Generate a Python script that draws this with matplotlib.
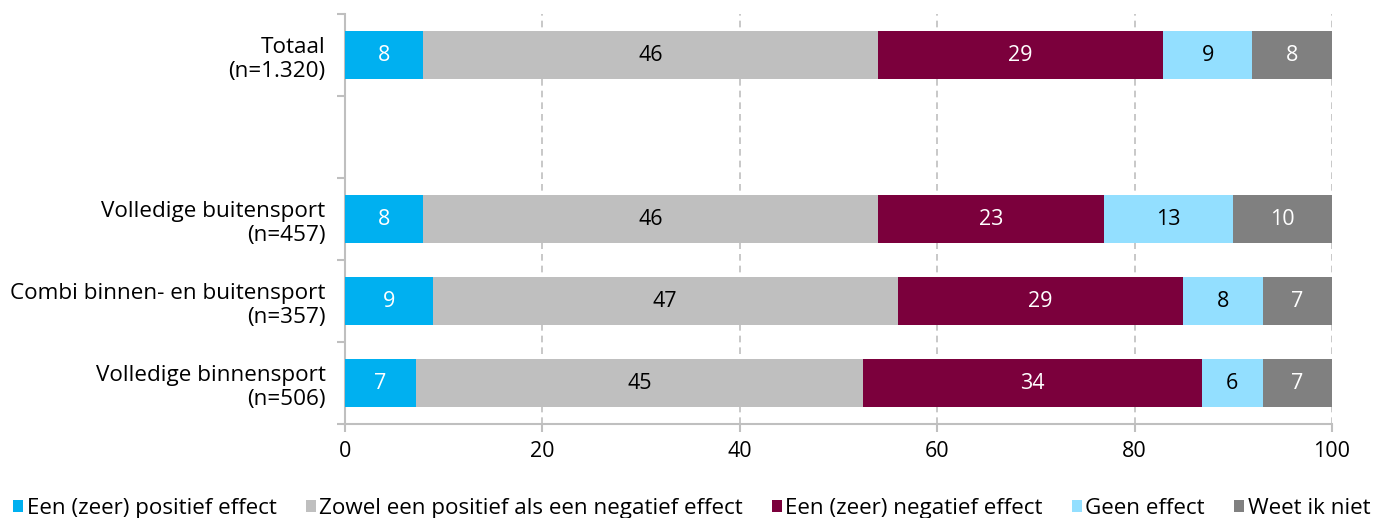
import matplotlib
matplotlib.use('agg')
import matplotlib.pyplot as plt
import numpy as np

plt.rcParams['font.family'] = ['Open Sans', 'DejaVu Sans']

# categorieen (van boven naar beneden), lege rij tussen Totaal en de rest
categorieen = ['Totaal\n(n=1.320)', '', 'Volledige buitensport\n(n=457)',
               'Combi binnen- en buitensport\n(n=357)', 'Volledige binnensport\n(n=506)']

reeksen = ['Een (zeer) positief effect', 'Zowel een positief als een negatief effect',
           'Een (zeer) negatief effect', 'Geen effect', 'Weet ik niet']

# percentages per categorie (lege rij = nullen)
positief = [7.9, 0, 7.9, 8.9, 7.2]
zowel = [46.1, 0, 46.1, 47.1, 45.3]
negatief = [28.9, 0, 22.9, 28.9, 34.3]
geen = [9.0, 0, 13.1, 8.1, 6.2]
weet_niet = [8.1, 0, 10.0, 7.0, 7.0]

kleuren = ['#00B0F0', '#BFBFBF', '#7B003C', '#93DFFF', '#808080']
tekstkleuren = ['white', 'black', 'white', 'black', 'white']

fig = plt.figure(figsize=(13.84, 5.18), dpi=100)
ax = fig.add_axes([345/1384, 1-424/518, 987/1384, 410/518])

y = np.arange(len(categorieen))
links = np.zeros(len(categorieen))
for waarden, kleur, tk, naam in zip([positief, zowel, negatief, geen, weet_niet],
                                     kleuren, tekstkleuren, reeksen):
    waarden = np.array(waarden)
    ax.barh(y, waarden, left=links, height=0.585, color=kleur, label=naam, zorder=3)
    for yi, (l, w) in enumerate(zip(links, waarden)):
        if w > 0:
            ax.text(l + w/2, yi, f'{w:.0f}', ha='center', va='center',
                    color=tk, fontsize=15.5, zorder=4)
    links += waarden

ax.set_xlim(0, 100)
ax.set_ylim(4.5, -0.5)
ax.set_xticks(range(0, 101, 20))
ax.set_yticks(y)
ax.set_yticklabels(categorieen, fontsize=16.2, linespacing=1.22)
ax.set_yticks(np.arange(-0.5, 5, 1), minor=True)
ax.tick_params(axis='y', which='major', length=0, pad=14)
ax.tick_params(axis='y', which='minor', length=6, color='#BFBFBF', width=1.5)
ax.tick_params(axis='x', length=6, color='#BFBFBF', width=1.5, labelsize=15.5, pad=6)

ax.grid(axis='x', linestyle=(0, (4, 3)), color='#BFBFBF', linewidth=1.2, zorder=0)
for kant in ['top', 'right']:
    ax.spines[kant].set_visible(False)
for kant in ['left', 'bottom']:
    ax.spines[kant].set_color('#BFBFBF')
    ax.spines[kant].set_linewidth(1.5)

fig.legend(loc='lower left', bbox_to_anchor=(0.0, -0.028), ncol=5, frameon=False,
           fontsize=16.1, handlelength=0.45, handleheight=0.45, handletextpad=0.15,
           columnspacing=1.3, borderaxespad=0.2)

fig.savefig('out.png', dpi=100)
